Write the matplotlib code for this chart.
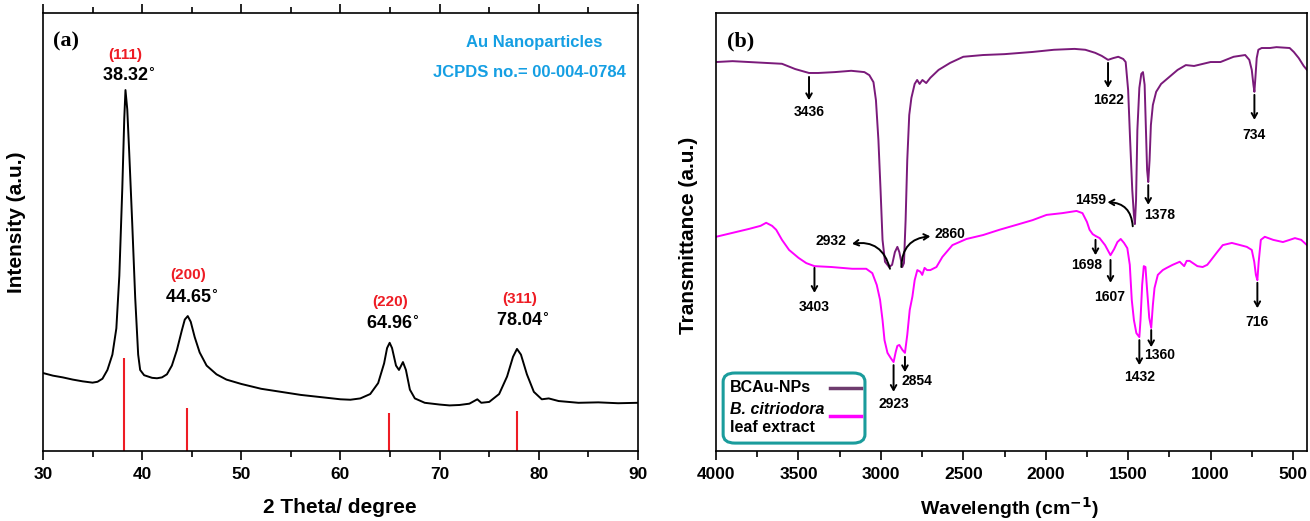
import matplotlib
matplotlib.use("Agg")
import matplotlib.pyplot as plt
from matplotlib.patches import FancyBboxPatch
from matplotlib.ticker import MultipleLocator

plt.rcParams['font.family'] = ['Liberation Sans', 'DejaVu Sans']
plt.rcParams['font.weight'] = 'bold'
plt.rcParams['axes.labelweight'] = 'bold'
plt.rcParams['mathtext.default'] = 'bf'
NARROW = ['Liberation Sans Narrow', 'Liberation Sans', 'DejaVu Sans']

# ---------------- (a) XRD ----------------
two_theta = [30.0, 31.0, 32.0, 33.0, 34.0, 35.0, 35.5, 36.0, 36.5, 37.0, 37.4, 37.7,
             38.0, 38.2, 38.32, 38.5, 38.7, 39.0, 39.3, 39.6, 39.8, 40.2, 41.0, 41.5,
             42.0, 42.5, 43.0, 43.5, 44.0, 44.3, 44.6, 44.9, 45.3, 45.8, 46.5, 47.5,
             48.5, 50.0, 52.0, 54.0, 56.0, 58.0, 60.0, 61.0, 62.0, 63.0, 63.8, 64.4,
             64.7, 64.96, 65.2, 65.6, 65.9, 66.3, 66.6, 67.0, 67.5, 68.5, 70.0, 71.0,
             72.0, 73.0, 73.8, 74.2, 75.0, 76.0, 76.8, 77.4, 77.8, 78.2, 78.8, 79.5,
             80.3, 81.0, 82.0, 84.0, 86.0, 88.0, 90.0]
intensity = [17.8, 17.2, 16.8, 16.3, 15.9, 15.6, 15.8, 16.5, 18.5, 22.0, 28.0, 40.0,
             60.0, 76.0, 82.4, 78.0, 68.0, 52.0, 35.0, 22.0, 18.5, 17.3, 16.7, 16.6,
             16.8, 17.5, 19.5, 23.0, 27.5, 30.0, 30.8, 29.5, 26.0, 22.5, 19.5, 17.5,
             16.3, 15.3, 14.2, 13.5, 12.8, 12.3, 11.8, 11.7, 12.0, 13.0, 15.5, 20.0,
             23.5, 24.7, 23.5, 19.5, 18.5, 20.3, 18.5, 14.0, 12.0, 11.0, 10.6, 10.4,
             10.5, 10.8, 11.8, 11.0, 11.2, 13.0, 17.0, 21.5, 23.3, 22.0, 17.5, 13.5,
             11.8, 12.0, 11.4, 11.0, 11.1, 10.9, 11.0]

ref_pos = [38.2, 44.5, 64.9, 77.8]
ref_height = [21.2, 9.8, 8.7, 9.1]

peak_hkl = ['(111)', '(200)', '(220)', '(311)']
peak_pos = [38.32, 44.65, 64.96, 78.04]
peak_hkl_y = [90.4, 40.2, 34.0, 34.7]
peak_val_y = [85.6, 34.9, 29.0, 29.5]

# ---------------- (b) FTIR ----------------
wn_np = [4000, 3900, 3800, 3700, 3600, 3520, 3436, 3380, 3280, 3180, 3100, 3070, 3045,
         3030, 3015, 3002, 2990, 2975, 2950, 2932, 2915, 2900, 2888, 2870, 2860, 2850,
         2840, 2828, 2815, 2795, 2780, 2765, 2748, 2725, 2700, 2650, 2580, 2500, 2380,
         2250, 2080, 1950, 1825, 1760, 1700, 1660, 1622, 1590, 1560, 1530, 1515, 1500,
         1488, 1475, 1465, 1459, 1452, 1444, 1432, 1420, 1410, 1400, 1392, 1385, 1378,
         1370, 1362, 1350, 1330, 1300, 1250, 1200, 1150, 1100, 1000, 940, 860, 790, 765,
         750, 740, 734, 728, 720, 710, 690, 640, 600, 520, 495, 465, 435, 415]
tr_np = [88.8, 89.0, 88.8, 88.6, 88.4, 87.2, 86.3, 86.3, 86.5, 86.8, 86.5, 85.8, 84.2,
         80.1, 71.0, 59.6, 48.2, 43.2, 42.0, 42.5, 45.4, 46.6, 45.4, 42.0, 42.9, 52.7,
         66.4, 76.7, 80.6, 83.8, 84.7, 83.8, 84.7, 84.0, 85.2, 87.0, 88.6, 90.0, 90.4,
         90.6, 91.1, 91.6, 91.8, 91.6, 90.9, 90.2, 89.3, 89.7, 90.0, 89.5, 88.8, 82.4,
         71.0, 59.6, 53.9, 51.8, 57.3, 73.3, 82.9, 86.1, 86.5, 83.6, 73.3, 64.2, 61.4,
         66.4, 74.4, 79.0, 82.0, 83.8, 85.4, 87.0, 88.1, 87.9, 88.8, 88.8, 90.0, 90.4,
         89.3, 87.0, 83.6, 82.0, 85.2, 89.7, 91.6, 92.0, 92.0, 92.2, 92.0, 91.1, 89.7,
         87.9, 87.0]

wn_leaf = [4000, 3900, 3800, 3730, 3696, 3660, 3635, 3600, 3557, 3500, 3453, 3403, 3300,
           3174, 3089, 3052, 3025, 3005, 2990, 2978, 2960, 2940, 2923, 2910, 2900, 2888,
           2870, 2854, 2840, 2825, 2809, 2795, 2779, 2760, 2749, 2735, 2720, 2700, 2663,
           2627, 2566, 2481, 2380, 2281, 2180, 2080, 1995, 1900, 1813, 1777, 1750, 1734,
           1715, 1698, 1673, 1640, 1607, 1585, 1565, 1545, 1525, 1505, 1490, 1478, 1465,
           1450, 1432, 1425, 1415, 1405, 1395, 1385, 1372, 1360, 1350, 1340, 1320, 1290,
           1266, 1230, 1187, 1160, 1145, 1127, 1080, 1048, 1020, 1005, 960, 926, 871, 820,
           780, 750, 735, 725, 716, 708, 695, 671, 620, 561, 520, 488, 450, 415]
tr_leaf = [48.9, 49.8, 50.7, 51.4, 52.1, 51.4, 50.5, 48.2, 45.9, 44.1, 42.9, 42.2, 42.0,
           41.6, 41.6, 40.6, 37.9, 34.5, 29.9, 25.3, 22.4, 21.2, 20.3, 22.6, 24.0, 24.2,
           23.1, 22.4, 26.5, 32.2, 35.2, 39.0, 41.3, 40.9, 40.2, 41.8, 41.3, 41.3, 42.0,
           44.3, 47.0, 48.4, 49.3, 50.5, 51.6, 52.7, 53.9, 54.3, 54.8, 54.3, 52.3, 50.5,
           49.5, 49.1, 48.6, 47.0, 44.7, 46.1, 47.7, 48.4, 47.5, 46.3, 42.5, 34.5, 29.9,
           26.9, 26.0, 29.9, 37.9, 42.2, 42.0, 36.8, 30.4, 28.1, 33.3, 37.2, 40.2, 41.3,
           41.8, 42.5, 43.2, 42.2, 43.4, 43.4, 42.2, 42.0, 42.5, 43.2, 45.4, 47.0, 47.5,
           47.0, 46.6, 45.9, 43.2, 40.2, 39.0, 43.2, 48.2, 48.9, 48.2, 47.7, 48.2, 48.6,
           48.2, 47.0]

# straight arrows: (label, wavenumber, arrow start, arrow end, label x, label y)
straight_marks = [
    ('3436', 3436, 85.4, 80.1, 3436, 77.4),
    ('1622', 1622, 88.6, 82.9, 1622, 80.1),
    ('734', 734, 81.3, 75.6, 734, 72.1),
    ('1378', 1378, 60.7, 56.2, 1310, 53.9),
    ('3403', 3403, 41.8, 36.1, 3403, 32.9),
    ('2923', 2923, 19.6, 13.5, 2923, 10.7),
    ('2854', 2854, 21.5, 18.0, 2779, 16.0),
    ('1698', 1698, 48.2, 44.7, 1752, 42.5),
    ('1607', 1607, 43.6, 38.4, 1615, 35.2),
    ('1432', 1432, 25.3, 19.6, 1432, 16.9),
    ('1360', 1360, 27.6, 23.7, 1310, 21.9),
    ('716', 716, 38.4, 32.6, 716, 29.5),
]
# curved arrows: (label, tail x, tail y, head x, head y, label x, label y, rad)
curved_marks = [
    ('2932', 2945, 41.6, 3175, 47.3, 3301, 47.9, 0.45),
    ('2860', 2876, 42.0, 2700, 49.0, 2584, 49.5, -0.45),
    ('1459', 1472, 51.3, 1625, 56.8, 1728, 57.3, 0.45),
]

purple = '#7a1a7a'
pink = '#ff00ff'

fig = plt.figure(figsize=(13.1, 5.21), dpi=100)
ax1 = fig.add_axes([0.0328, 0.1344, 0.4542, 0.8407])
ax2 = fig.add_axes([0.5466, 0.1344, 0.4511, 0.8407])

# ---- panel a ----
ax1.plot(two_theta, intensity, color='black', lw=1.4)
ax1.vlines(ref_pos, 0, ref_height, color='#ee1c24', lw=1.5)
for hkl, x, yh, yv in zip(peak_hkl, peak_pos, peak_hkl_y, peak_val_y):
    ax1.text(x, yh, hkl, color='#ee1c24', fontsize=11, ha='center', va='center',
             family=NARROW)
    ax1.text(x + 0.3, yv, f'{x:.2f}$^{{\\circ}}$', color='black', fontsize=13,
             ha='center', va='center', family=NARROW)
ax1.text(0.039, 0.935, '(a)', transform=ax1.transAxes, fontsize=16, ha='center',
         va='center', family=['Liberation Serif', 'DejaVu Serif'])
ax1.text(0.825, 0.932, 'Au Nanoparticles', transform=ax1.transAxes, color='#159fe3',
         fontsize=12, ha='center', va='center', family=NARROW)
ax1.text(0.818, 0.865, 'JCPDS no.= 00-004-0784', transform=ax1.transAxes,
         color='#159fe3', fontsize=12, ha='center', va='center', family=NARROW)
ax1.set_xlim(30, 90)
ax1.set_ylim(0, 100)
ax1.xaxis.set_major_locator(MultipleLocator(10))
ax1.xaxis.set_minor_locator(MultipleLocator(5))
ax1.tick_params(axis='x', which='both', top=True, direction='out', width=1.2,
                labelsize=12.5, pad=5)
ax1.tick_params(axis='x', which='major', length=6.5)
ax1.tick_params(axis='x', which='minor', length=4)
ax1.set_yticks([])
ax1.set_xlabel('2 Theta/ degree', fontsize=15)
ax1.xaxis.set_label_coords(0.499, -0.108)
ax1.set_ylabel('Intensity (a.u.)', fontsize=15)
ax1.yaxis.set_label_coords(-0.029, 0.523)

# ---- panel b ----
ax2.plot(wn_np, tr_np, color=purple, lw=1.4)
ax2.plot(wn_leaf, tr_leaf, color=pink, lw=1.4)
arrow = dict(arrowstyle='->,head_length=0.35,head_width=0.2', color='black', lw=1.4,
             shrinkA=0, shrinkB=0)
for lab, x, y0, y1, lx, ly in straight_marks:
    ax2.annotate('', xy=(x, y1), xytext=(x, y0), arrowprops=arrow)
    ax2.text(lx, ly, lab, fontsize=10, ha='center', va='center', family=NARROW)
for lab, tx, ty, hx, hy, lx, ly, rad in curved_marks:
    ax2.annotate('', xy=(hx, hy), xytext=(tx, ty),
                 arrowprops=dict(arrow, connectionstyle=f'arc3,rad={rad}'))
    ax2.text(lx, ly, lab, fontsize=10, ha='center', va='center', family=NARROW)
ax2.text(0.041, 0.935, '(b)', transform=ax2.transAxes, fontsize=16, ha='center',
         va='center', family=['Liberation Serif', 'DejaVu Serif'])

# legend box
box = FancyBboxPatch((0.012, 0.018), 0.24, 0.16, transform=ax2.transAxes,
                     boxstyle='round,pad=0,rounding_size=0.02', fc='white',
                     ec='#1a9c9c', lw=2.2, zorder=5)
ax2.add_patch(box)
ax2.text(0.024, 0.144, 'BCAu-NPs', transform=ax2.transAxes, fontsize=11.5,
         va='center', zorder=6, family=NARROW)
ax2.text(0.024, 0.094, 'B. citriodora', transform=ax2.transAxes, fontsize=11.5,
         va='center', style='italic', zorder=6, family=NARROW)
ax2.text(0.024, 0.053, 'leaf extract', transform=ax2.transAxes, fontsize=11.5,
         va='center', zorder=6, family=NARROW)
ax2.plot([0.193, 0.245], [0.144, 0.144], transform=ax2.transAxes, color='#6e3c6e',
         lw=2.5, zorder=6)
ax2.plot([0.193, 0.245], [0.080, 0.080], transform=ax2.transAxes, color=pink,
         lw=2.5, zorder=6)

ax2.set_xlim(4000, 415)
ax2.set_ylim(0, 100)
ax2.xaxis.set_major_locator(MultipleLocator(500))
ax2.xaxis.set_minor_locator(MultipleLocator(250))
ax2.tick_params(axis='x', which='both', direction='out', width=1.2, labelsize=12.5,
                pad=5)
ax2.tick_params(axis='x', which='major', length=6.5)
ax2.tick_params(axis='x', which='minor', length=4)
ax2.set_yticks([])
ax2.set_xlabel('Wavelength (cm$^{-1}$)', fontsize=14)
ax2.xaxis.set_label_coords(0.497, -0.100)
ax2.set_ylabel('Transmittance (a.u.)', fontsize=15)
ax2.yaxis.set_label_coords(-0.030, 0.493)

for ax in (ax1, ax2):
    for s in ax.spines.values():
        s.set_linewidth(1.2)

fig.savefig('out.png', dpi=100)
